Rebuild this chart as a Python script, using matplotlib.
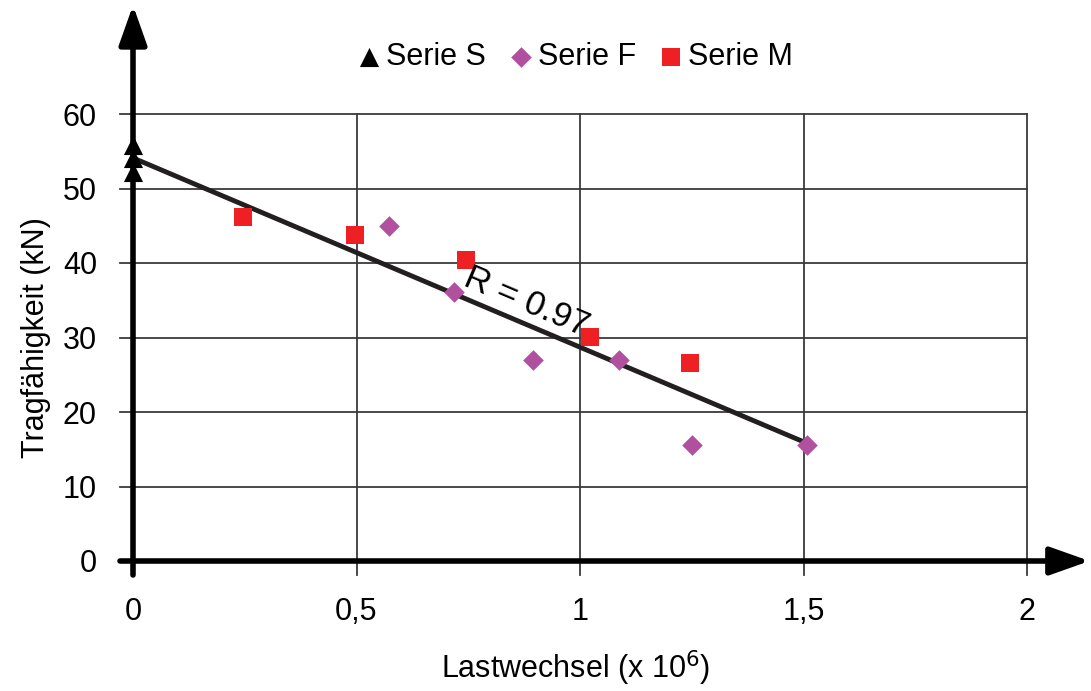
import matplotlib.pyplot as plt
import numpy as np

plt.rcParams["font.family"] = ["Liberation Sans", "DejaVu Sans"]

# data
serie_s_x = [0.0, 0.0, 0.0]
serie_s_y = [55.8, 54.1, 52.2]
serie_f_x = [0.573, 0.718, 0.895, 1.087, 1.251, 1.508]
serie_f_y = [45.0, 36.1, 27.0, 27.0, 15.6, 15.6]
serie_m_x = [0.246, 0.497, 0.745, 1.022, 1.246]
serie_m_y = [46.2, 43.8, 40.4, 30.1, 26.6]
trend_x = [0.0, 1.508]
trend_y = [54.1, 15.8]
x_ticks = [0, 0.5, 1, 1.5, 2]
x_tick_labels = ["0", "0,5", "1", "1,5", "2"]
y_ticks = [0, 10, 20, 30, 40, 50, 60]

GRID = "#3a3a3a"

fig = plt.figure(figsize=(10.91, 6.91), dpi=100)
ax = fig.add_axes([133 / 1091, 1 - 561 / 691, (1027 - 133) / 1091, (561 - 114) / 691])
ax.set_xlim(0, 2)
ax.set_ylim(0, 60)
for s in ax.spines.values():
    s.set_visible(False)
ax.tick_params(length=0, labelsize=22, colors="black")
ax.set_xticks(x_ticks)
ax.set_xticklabels(x_tick_labels)
ax.set_yticks(y_ticks)
ax.tick_params(axis="x", pad=26)
ax.tick_params(axis="y", pad=26)

# grid, extending a little past the axes like tick marks
dx = 13 / 447
dy = 14 / 7.45
for yv in y_ticks[1:]:
    ax.plot([-dx, 2], [yv, yv], color=GRID, lw=1.3, clip_on=False, zorder=1)
for xv in x_ticks[1:]:
    ax.plot([xv, xv], [-dy, 60], color=GRID, lw=1.3, clip_on=False, zorder=1)

# axes with arrows
arrow = dict(arrowstyle="-|>,head_length=2.4,head_width=0.85",
             color="black", lw=4, shrinkA=0, shrinkB=0)
ax.annotate("", xy=(0, 74.6), xytext=(0, -dy), arrowprops=arrow,
            annotation_clip=False, zorder=5)
ax.annotate("", xy=(2.14, 0), xytext=(-dx, 0), arrowprops=arrow,
            annotation_clip=False, zorder=5)

ax.plot(trend_x, trend_y, color="#231f20", lw=3.5, zorder=3)
ax.scatter(serie_s_x, serie_s_y, marker="^", s=190, color="black", zorder=6,
           clip_on=False, label="Serie S", linewidths=0)
ax.scatter(serie_f_x, serie_f_y, marker="D", s=110, color="#b0509e", zorder=4,
           label="Serie F", linewidths=0)
ax.scatter(serie_m_x, serie_m_y, marker="s", s=170, color="#ee2024", zorder=4,
           label="Serie M", linewidths=0)

ax.text(0.88, 34.8, "R = 0.97", fontsize=25, rotation=-23,
        ha="center", va="center", rotation_mode="anchor", zorder=7)

ax.set_xlabel("Lastwechsel (x 10$^{6}$)", fontsize=22)
ax.set_ylabel("Tragfähigkeit (kN)", fontsize=22)
ax.xaxis.set_label_coords(0.495, -0.195)
ax.yaxis.set_label_coords(-0.092, 0.5)

fig.legend(loc="center", bbox_to_anchor=(0.527, 1 - 57 / 691), ncol=3,
           frameon=False, fontsize=22, handlelength=0.8, handletextpad=0.15,
           columnspacing=0.75, markerscale=1.0)

fig.savefig("out.png", dpi=100)
